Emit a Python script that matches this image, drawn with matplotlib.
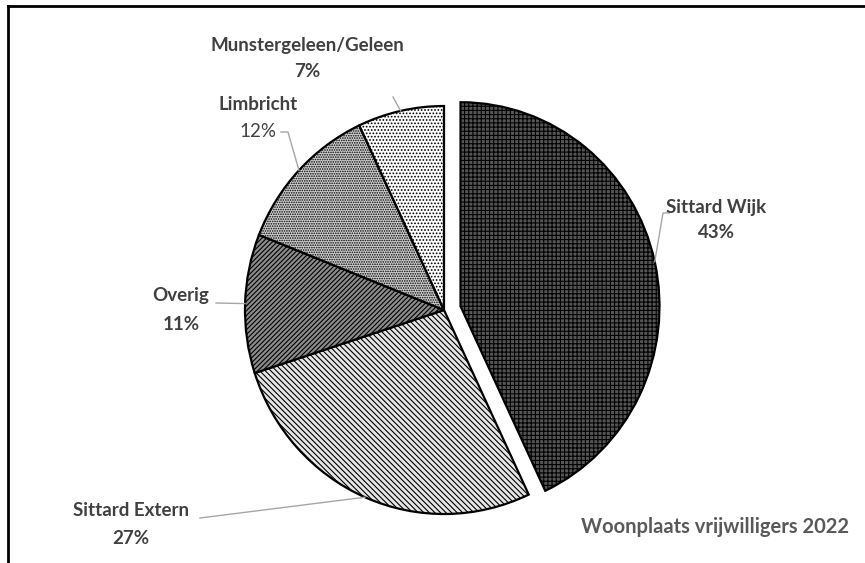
import matplotlib
matplotlib.use('Agg')
from matplotlib import pyplot as plt
from matplotlib.lines import Line2D
import numpy as np

labels = ['Sittard Wijk', 'Sittard Extern', 'Overig', 'Limbricht', 'Munstergeleen/Geleen']
values = [43, 27, 11, 12, 7]
pct_labels = ['43%', '27%', '11%', '12%', '7%']

plt.rcParams['font.family'] = ['Lato', 'DejaVu Sans']
plt.rcParams['hatch.linewidth'] = 0.8

W, H = 865, 563
fig = plt.figure(figsize=(W / 100, H / 100), dpi=100)
ax = fig.add_axes([0, 0, 1, 1])

# pie centre / radius in pixels (y measured from the top)
cx, cy, rx, ry = 444, 310, 199, 204


def px(x, y):
    return (x - cx) / rx, (cy - y) / ry


faces = ['#555555', '#e6e6e6', '#8c8c8c', '#d0d0d0', 'white']
hatches = ['+' * 4, '\\' * 6, '/' * 7, '.' * 7, '.' * 5]

wedges, _ = ax.pie(values, startangle=90, counterclock=False, radius=1,
                   explode=[0.085, 0, 0, 0, 0],
                   wedgeprops=dict(edgecolor='black', linewidth=1.6))
for w, fc, h in zip(wedges, faces, hatches):
    w.set_facecolor(fc)
    w.set_hatch(h)

ax.set_aspect('auto')
ax.set_xlim(-cx / rx, (W - cx) / rx)
ax.set_ylim((cy - H) / ry, cy / ry)
ax.axis('off')

txt = '#404040'
# (label centre x, label y, pct y, bold pct, leader start points in px)
spots = [
    (716, 208, 232, True, [(669, 213), (663, 213)]),
    (131, 510, 539, True, [(200, 518)]),
    (181, 296, 324, True, [(216, 303)]),
    (258, 105, 132, False, [(281, 132), (288, 132)]),
    (307, 46, 72, True, [(393, 97)]),
]

for w, lab, pct, (lx, ly, py, pbold, lead) in zip(wedges, labels, pct_labels, spots):
    ax.text(*px(lx, ly), lab, ha='center', va='center', fontsize=13.5,
            fontweight='bold', color=txt)
    ax.text(*px(lx, py), pct, ha='center', va='center', fontsize=13.5,
            fontweight='bold' if pbold else 'normal', color=txt)
    th = np.deg2rad((w.theta1 + w.theta2) / 2)
    ex = w.center[0] + w.r * np.cos(th)
    ey = w.center[1] + w.r * np.sin(th)
    pts = [px(x, y) for x, y in lead] + [(ex, ey)]
    ax.plot([p[0] for p in pts], [p[1] for p in pts], color='#a6a6a6', lw=1)

ax.text(*px(715, 527), 'Woonplaats vrijwilligers 2022', ha='center', va='center',
        fontsize=14.5, fontweight='bold', color='#595959')

# outer frame (left and top edges visible)
fig.add_artist(Line2D([8 / W, 8 / W], [0, 1 - 6 / H], color='black', lw=2,
                      transform=fig.transFigure))
fig.add_artist(Line2D([8 / W, 1], [1 - 6 / H, 1 - 6 / H], color='black', lw=2,
                      transform=fig.transFigure))

fig.savefig('out.png', dpi=100)
